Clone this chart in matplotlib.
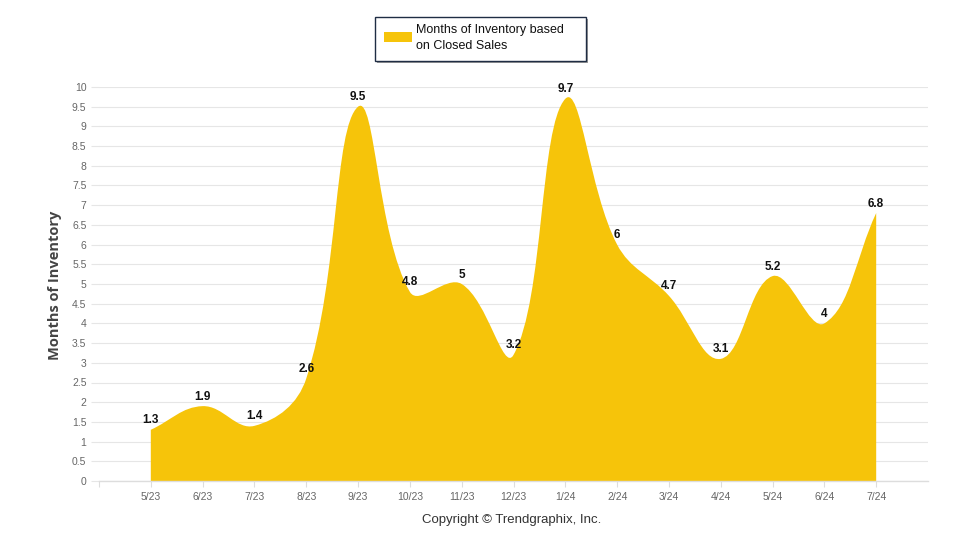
import numpy as np
import matplotlib
matplotlib.use("Agg")
import matplotlib.pyplot as plt
from matplotlib.path import Path
from matplotlib.patches import PathPatch, Rectangle

months = ["5/23", "6/23", "7/23", "8/23", "9/23", "10/23", "11/23", "12/23",
          "1/24", "2/24", "3/24", "4/24", "5/24", "6/24", "7/24"]
inventory = [1.3, 1.9, 1.4, 2.6, 9.5, 4.8, 5, 3.2, 9.7, 6, 4.7, 3.1, 5.2, 4, 6.8]
value_labels = ["1.3", "1.9", "1.4", "2.6", "9.5", "4.8", "5", "3.2",
                "9.7", "6", "4.7", "3.1", "5.2", "4", "6.8"]
series_name = "Months of Inventory based\non Closed Sales"
y_title = "Months of Inventory"
copyright_text = "Copyright \u00a9 Trendgraphix, Inc."

FILL = "#F6C40A"
GRID = "#E6E6E6"

plt.rcParams["font.family"] = ["Liberation Sans", "DejaVu Sans"]

fig = plt.figure(figsize=(9.6, 5.5), dpi=100)
ax = fig.add_axes([99 / 960, 1 - 481 / 550, (928 - 99) / 960, (481 - 87) / 550])
ax.set_xlim(-1, 15)
ax.set_ylim(0, 10)

# spline (Chart.js style, tension 0.4) computed in pixel space
xs = np.arange(len(inventory), dtype=float)
ys = np.array(inventory, dtype=float)
sx, sy = 51.8, 39.4
P = np.column_stack([xs * sx, ys * sy])
n = len(P)
t = 0.4
cp_prev = np.zeros_like(P)
cp_next = np.zeros_like(P)
for i in range(n):
    prv = P[i - 1] if i > 0 else P[i]
    nxt = P[i + 1] if i < n - 1 else P[i]
    cur = P[i]
    d01 = np.hypot(*(cur - prv))
    d12 = np.hypot(*(nxt - cur))
    tot = d01 + d12
    s01 = d01 / tot if tot else 0
    s12 = d12 / tot if tot else 0
    cp_prev[i] = cur - t * s01 * (nxt - prv)
    cp_next[i] = cur + t * s12 * (nxt - prv)

def to_data(p):
    return (p[0] / sx, p[1] / sy)

verts = [(xs[0], 0.0), to_data(P[0])]
codes = [Path.MOVETO, Path.LINETO]
for i in range(n - 1):
    verts += [to_data(cp_next[i]), to_data(cp_prev[i + 1]), to_data(P[i + 1])]
    codes += [Path.CURVE4] * 3
verts += [(xs[-1], 0.0), (xs[0], 0.0)]
codes += [Path.LINETO, Path.CLOSEPOLY]
ax.add_patch(PathPatch(Path(verts, codes), facecolor=FILL, edgecolor="none", zorder=2))

# grid & axes styling
ax.set_yticks(np.arange(0, 10.01, 0.5))
ax.set_yticklabels([f"{v:g}" for v in np.arange(0, 10.01, 0.5)])
ax.set_xticks(np.arange(-1, 15))
ax.set_xticklabels([""] + months)
ax.grid(axis="y", color=GRID, linewidth=0.8, zorder=0)
for s in ["top", "right", "left"]:
    ax.spines[s].set_visible(False)
ax.spines["bottom"].set_color("#DDDDDD")
ax.spines["bottom"].set_linewidth(1.0)
ax.spines["bottom"].set_zorder(3)
ax.tick_params(axis="y", length=6, color=GRID, labelsize=7.5, labelcolor="#666666", pad=3)
ax.tick_params(axis="x", length=4, color="#DDDDDD", labelsize=7.5, labelcolor="#666666", pad=4)

for x, y, lab in zip(xs, ys, value_labels):
    ax.annotate(lab, (x, y), xytext=(0, 2.5), textcoords="offset points",
                ha="center", va="bottom", fontsize=8.5, fontweight="bold",
                color="#111111", zorder=5, annotation_clip=False)

fig.text(55 / 960, 1 - 285 / 550, y_title, rotation=90, ha="center", va="center",
         fontsize=10.5, fontweight="bold", color="#444444",
         family=["Open Sans", "DejaVu Sans"])

fig.text(512 / 960, 1 - 520 / 550, copyright_text, ha="center", va="center",
         fontsize=9.5, color="#333333")

# legend box
W, H = 960, 550
fig.patches.append(Rectangle((377 / W, 1 - 63 / H), 211 / W, 44 / H, transform=fig.transFigure,
                             facecolor="#9A9A9A", edgecolor="none", zorder=1))
fig.patches.append(Rectangle((375 / W, 1 - 61 / H), 211 / W, 44 / H, transform=fig.transFigure,
                             facecolor="white", edgecolor="#1F2D44", linewidth=1.0, zorder=2))
fig.patches.append(Rectangle((384 / W, 1 - 42 / H), 28 / W, 10 / H, transform=fig.transFigure,
                             facecolor=FILL, edgecolor="none", zorder=3))
fig.text(416 / W, 1 - 38 / H, series_name, ha="left", va="center", fontsize=9,
         color="#111111", linespacing=1.35, zorder=4)

fig.savefig("out.png", dpi=100)
